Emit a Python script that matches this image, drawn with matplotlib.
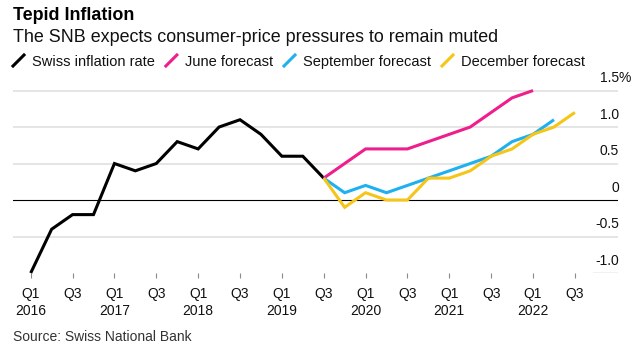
import numpy as np
import matplotlib
matplotlib.use("Agg")
import matplotlib.pyplot as plt
from matplotlib.lines import Line2D

plt.rcParams['font.family'] = ['Liberation Sans', 'DejaVu Sans']

# quarterly axis, Q1 2016 .. Q3 2022
tick_labels = ["Q1\n2016", "Q3", "Q1\n2017", "Q3", "Q1\n2018", "Q3", "Q1\n2019", "Q3",
               "Q1\n2020", "Q3", "Q1\n2021", "Q3", "Q1\n2022", "Q3"]
n_quarters = 27

# CPI, y/y %, Q1 2016 .. Q3 2019
swiss = [-1.0, -0.4, -0.2, -0.2, 0.5, 0.4, 0.5, 0.8, 0.7, 1.0, 1.1, 0.9, 0.6, 0.6, 0.3]
# SNB conditional forecasts, all starting from Q3 2019
forecast_start = 14
june = [0.3, 0.5, 0.7, 0.7, 0.7, 0.8, 0.9, 1.0, 1.2, 1.4, 1.5]
september = [0.3, 0.1, 0.2, 0.1, 0.2, 0.3, 0.4, 0.5, 0.6, 0.8, 0.9, 1.1]
december = [0.3, -0.1, 0.1, 0.0, 0.0, 0.3, 0.3, 0.4, 0.6, 0.7, 0.9, 1.0, 1.2]

y_ticks = [-1.0, -0.5, 0, 0.5, 1.0, 1.5]
y_tick_labels = ["-1.0", "-0.5", "0", "0.5", "1.0", "1.5"]

series = [
    ("Swiss inflation rate", swiss, 0, "#000000"),
    ("June forecast", june, forecast_start, "#ee1f8c"),
    ("September forecast", september, forecast_start, "#1fb0f0"),
    ("December forecast", december, forecast_start, "#f5c518"),
]

W, H = 635, 346
fig = plt.figure(figsize=(W / 100, H / 100), dpi=100)
ax = fig.add_axes([13 / W, 73 / H, 605 / W, (273 - 84.7) / H])
ax.set_xlim(-0.846, 28.06)
ax.set_ylim(-1.0, 1.58)

for v in y_ticks:
    if v == 0:
        ax.axhline(v, color="black", lw=0.8, zorder=1)
    elif v == -1.0:
        ax.axhline(v, xmin=(593 - 13) / 605, xmax=1, color="black", lw=0.8, zorder=1)
    else:
        ax.axhline(v, color="#dedede", lw=1.1, zorder=0)

for label, vals, start, color in series:
    x = np.arange(start, start + len(vals))
    ax.plot(x, vals, color=color, lw=2.2, solid_joinstyle="miter",
            solid_capstyle="butt", clip_on=False, zorder=3)

# value labels sit above the gridlines on the right edge
for v, txt in zip(y_ticks, y_tick_labels):
    ax.annotate(txt, xy=(1, v), xycoords=("axes fraction", "data"),
                xytext=(0.7, 6.1), textcoords="offset points",
                ha="right", va="baseline", fontsize=10, color="#111111")
ax.annotate("%", xy=(1, 1.5), xycoords=("axes fraction", "data"),
            xytext=(0.7, 6.1), textcoords="offset points",
            ha="left", va="baseline", fontsize=10, color="#111111")

ax.set_xticks(np.arange(0, n_quarters, 2))
ax.set_xticklabels(tick_labels)
ax.set_yticks([])
ax.tick_params(axis="x", length=3.6, width=0.8, color="#8a8a8a", pad=6.5,
               labelsize=10, labelcolor="#111111")
for lbl in ax.get_xticklabels():
    lbl.set_linespacing(1.25)
for s in ax.spines.values():
    s.set_visible(False)

fig.text(13 / W, 1 - 20 / H, "Tepid Inflation", fontsize=12.9, fontweight="bold",
         va="baseline", color="#000000")
fig.text(13 / W, 1 - 41.7 / H, "The SNB expects consumer-price pressures to remain muted",
         fontsize=12.85, va="baseline", color="#111111")

# legend row: slanted colour stroke followed by the label
renderer = fig.canvas.get_renderer()
x_px = 13
for label, vals, start, color in series:
    fig.add_artist(Line2D([x_px / W, (x_px + 11) / W], [(H - 66) / H, (H - 55) / H],
                          transform=fig.transFigure, color=color, lw=2.2))
    t = fig.text((x_px + 19) / W, (H - 66) / H, label, fontsize=10.5,
                 va="baseline", color="#111111")
    x_px = t.get_window_extent(renderer).x1 + 11

fig.text(13 / W, 1 - 341 / H, "Source: Swiss National Bank", fontsize=10,
         va="baseline", color="#333333")

fig.savefig("out.png", dpi=100)
